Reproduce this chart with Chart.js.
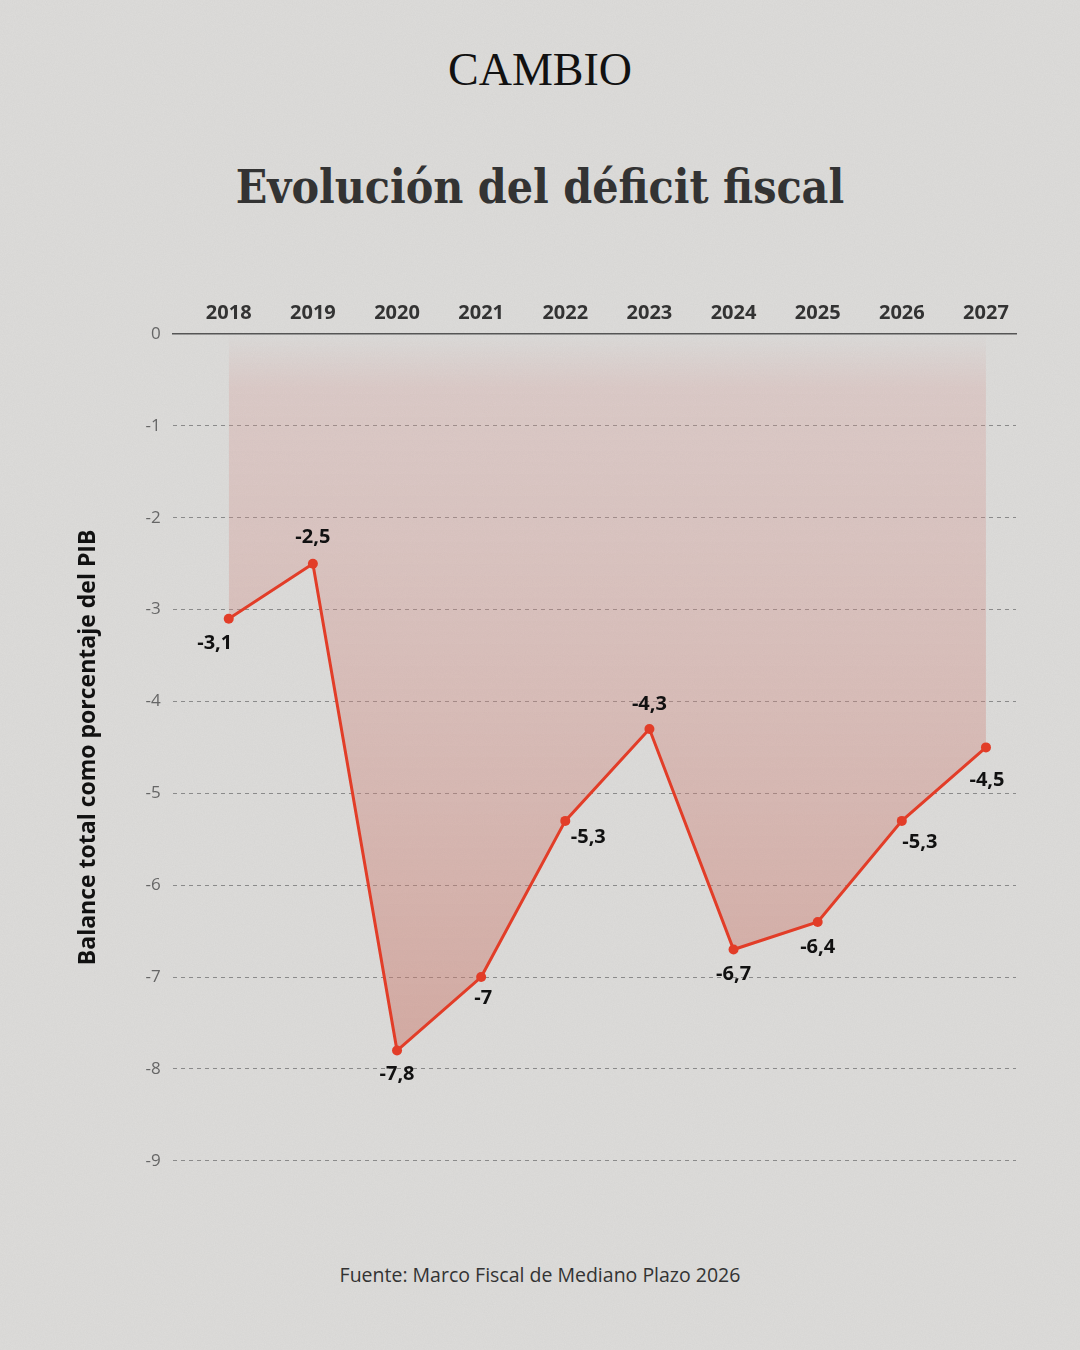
<!DOCTYPE html>
<html>
<head>
  <meta charset="utf-8">
  <title>Evolución del déficit fiscal</title>
  <script src="https://cdn.jsdelivr.net/npm/chart.js"></script>
  <style>
    body {
      margin: 0; width: 1080px; height: 1350px; position: relative; overflow: hidden;
      background-color: #dddcda;
      background-image: url("data:image/svg+xml,%3Csvg xmlns='http://www.w3.org/2000/svg' width='300' height='300'%3E%3Cfilter id='n'%3E%3CfeTurbulence type='fractalNoise' baseFrequency='0.9' numOctaves='3' seed='4'/%3E%3CfeColorMatrix values='0 0 0 0 0.45 0 0 0 0 0.45 0 0 0 0 0.45 0 0 0 0.9 0'/%3E%3C/filter%3E%3Crect width='300' height='300' filter='url(%23n)' opacity='0.18'/%3E%3C/svg%3E");
      font-family: 'Open Sans', sans-serif;
    }
    #brand { position: absolute; top: 43px; width: 1080px; text-align: center; font-family: 'Liberation Serif', serif; font-size: 46px; color: #111; }
    #title { position: absolute; top: 160px; width: 1080px; text-align: center; font-family: 'DejaVu Serif', serif; font-stretch: condensed; font-weight: bold; font-size: 46px; color: #333; }
    #source { position: absolute; top: 1261px; width: 1080px; text-align: center; font-size: 19.5px; color: #333; }
    #wrap { position: absolute; left: 0; top: 280px; width: 1080px; height: 903px; }
  </style>
</head>
<body>
  <div id="brand">CAMBIO</div>
  <div id="title">Evolución del déficit fiscal</div>
  <div id="wrap"><canvas id="deficitChart"></canvas></div>
  <div id="source">Fuente: Marco Fiscal de Mediano Plazo 2026</div>

  <script>
    const years = [2018, 2019, 2020, 2021, 2022, 2023, 2024, 2025, 2026, 2027];
    const balance = [-3.1, -2.5, -7.8, -7, -5.3, -4.3, -6.7, -6.4, -5.3, -4.5];
    const yTicks = [0, -1, -2, -3, -4, -5, -6, -7, -8, -9];

    // where each value label sits relative to its point
    const labelShift = [[-14, 25], [0, -26], [0, 24], [2, 21], [23, 16], [0, -25], [0, 25], [0, 25], [18, 21], [1, 33]];

    const valueLabels = {
      id: 'valueLabels',
      afterDatasetsDraw(chart) {
        const c = chart.ctx;
        const pts = chart.getDatasetMeta(0).data;
        c.save();
        c.font = 'bold 20px "Open Sans", sans-serif';
        c.fillStyle = '#111';
        c.textAlign = 'center';
        c.textBaseline = 'middle';
        pts.forEach((p, i) => {
          const txt = String(balance[i]).replace('.', ',');
          c.fillText(txt, p.x + labelShift[i][0], p.y + labelShift[i][1]);
        });
        c.restore();
      }
    };

    const ctx = document.getElementById('deficitChart').getContext('2d');
    const chart = new Chart(ctx, {
      type: 'line',
      data: {
        datasets: [{
          data: years.map((y, i) => ({ x: y, y: balance[i] })),
          borderColor: '#e23d28',
          borderWidth: 3,
          pointRadius: 5,
          pointBackgroundColor: '#e23d28',
          pointBorderWidth: 0,
          tension: 0,
          fill: 'origin',
          backgroundColor: (context) => {
            const area = context.chart.chartArea;
            if (!area) return 'rgba(210,130,120,0.4)';
            const g = context.chart.ctx.createLinearGradient(0, area.top, 0, area.top + 780);
            g.addColorStop(0, 'rgba(215,150,145,0)');
            g.addColorStop(0.07, 'rgba(215,150,145,0.25)');
            g.addColorStop(1, 'rgba(200,115,100,0.5)');
            return g;
          }
        }]
      },
      options: {
        responsive: true,
        maintainAspectRatio: false,
        animation: false,
        layout: { padding: { left: 71, right: 64, top: 12, bottom: 8 } },
        plugins: { legend: { display: false }, tooltip: { enabled: false } },
        scales: {
          x: {
            type: 'linear',
            position: 'top',
            min: 2017.335,
            max: 2027.357,
            afterBuildTicks: (scale) => { scale.ticks = years.map(v => ({ value: v })); },
            grid: { display: false, drawTicks: false },
            border: { display: true, color: '#555', width: 1.5 },
            ticks: {
              callback: (v) => String(v),
              color: '#333',
              font: { family: '"Open Sans", sans-serif', size: 20, weight: 'bold' },
              padding: 9,
              maxRotation: 0
            }
          },
          y: {
            min: -9,
            max: 0,
            afterBuildTicks: (scale) => { scale.ticks = yTicks.map(v => ({ value: v })); },
            grid: {
              drawTicks: false,
              color: (c) => c.tick && c.tick.value === 0 ? 'rgba(0,0,0,0)' : '#8a8a8a',
              lineWidth: 1
            },
            border: { display: false, dash: [4, 4] },
            ticks: {
              color: '#666',
              font: { family: '"Open Sans", sans-serif', size: 17 },
              padding: 12
            },
            title: {
              display: true,
              text: 'Balance total como porcentaje del PIB',
              color: '#111',
              font: { family: '"Open Sans", sans-serif', size: 23, weight: 'bold' },
              padding: { bottom: 31 }
            }
          }
        }
      },
      plugins: [valueLabels]
    });
  </script>
</body>
</html>
